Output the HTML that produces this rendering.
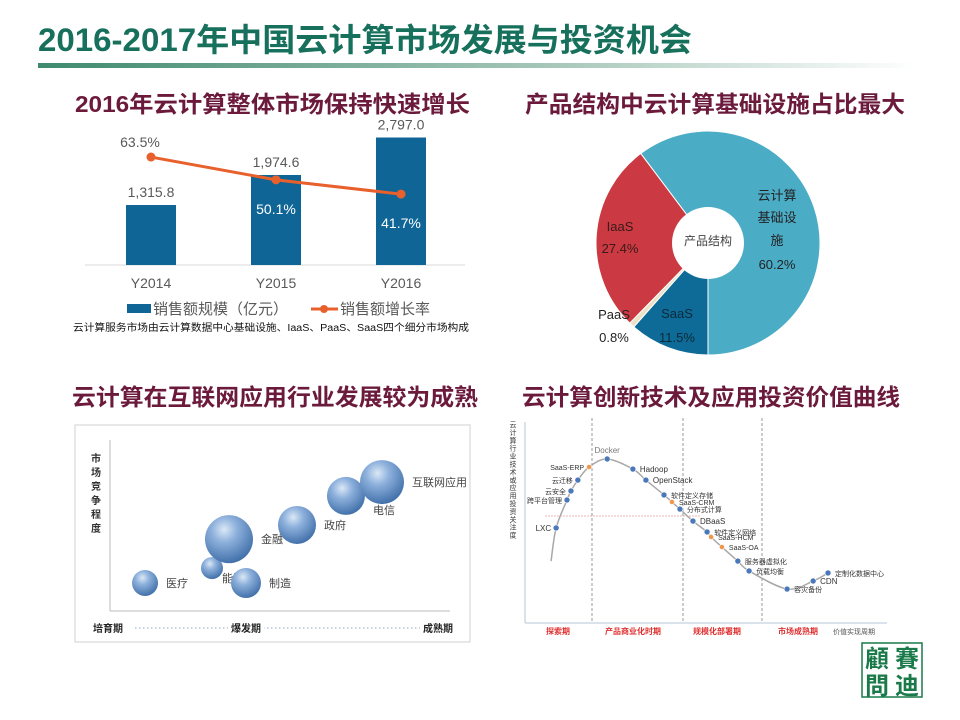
<!DOCTYPE html>
<html><head><meta charset="utf-8"><style>
body{margin:0;background:#fff;}
#page{position:relative;width:960px;height:720px;overflow:hidden;background:#fff;font-family:"Liberation Sans","Noto Sans CJK SC",sans-serif;}
svg text{font-family:"Liberation Sans","Noto Sans CJK SC",sans-serif;}
</style></head><body>
<div id="page">
<svg width="960" height="720" viewBox="0 0 960 720">
<defs>
<linearGradient id="ruleGrad" x1="0" x2="1" y1="0" y2="0">
<stop offset="0" stop-color="#3f8a6f"/><stop offset="0.6" stop-color="#a9c9bc"/><stop offset="1" stop-color="#ffffff"/>
</linearGradient>
<radialGradient id="ball" cx="0.4" cy="0.3" r="0.75">
<stop offset="0" stop-color="#dbe8f6"/><stop offset="0.35" stop-color="#8eb1dc"/><stop offset="1" stop-color="#3a6aa5"/>
</radialGradient>
</defs>
<text x="38" y="51" font-size="32" font-weight="bold" fill="#17705c" textLength="654" lengthAdjust="spacingAndGlyphs">2016-2017年中国云计算市场发展与投资机会</text>
<rect x="38" y="63" width="880" height="5" fill="url(#ruleGrad)"/>
<text x="75" y="112" font-size="23" font-weight="bold" fill="#6b1a3c" textLength="395" lengthAdjust="spacingAndGlyphs">2016年云计算整体市场保持快速增长</text>
<text x="525" y="112" font-size="23" font-weight="bold" fill="#6b1a3c" textLength="380" lengthAdjust="spacingAndGlyphs">产品结构中云计算基础设施占比最大</text>
<text x="72" y="405" font-size="23" font-weight="bold" fill="#6b1a3c" textLength="406" lengthAdjust="spacingAndGlyphs">云计算在互联网应用行业发展较为成熟</text>
<text x="522" y="405" font-size="23" font-weight="bold" fill="#6b1a3c" textLength="378" lengthAdjust="spacingAndGlyphs">云计算创新技术及应用投资价值曲线</text>
<g id="barChart"></g>
<g id="pieChart"></g>
<g id="bubbleChart"></g>
<g id="curveChart"></g>
<g>
<rect x="862" y="643" width="60" height="54" fill="none" stroke="#1a7a4a" stroke-width="1.5"/>
<text x="877" y="667" font-size="24" text-anchor="middle" fill="#1a7a4a" font-family="Noto Serif CJK SC,serif" font-weight="bold">顧</text>
<text x="907" y="667" font-size="24" text-anchor="middle" fill="#1a7a4a" font-family="Noto Serif CJK SC,serif" font-weight="bold">賽</text>
<text x="877" y="694" font-size="24" text-anchor="middle" fill="#1a7a4a" font-family="Noto Serif CJK SC,serif" font-weight="bold">問</text>
<text x="907" y="694" font-size="24" text-anchor="middle" fill="#1a7a4a" font-family="Noto Serif CJK SC,serif" font-weight="bold">迪</text>
</g>
</svg>
</div>
<script>
const NS='http://www.w3.org/2000/svg';
function mk(parent,tag,attrs,text){const e=document.createElementNS(NS,tag);for(const k in attrs)e.setAttribute(k,attrs[k]);if(text!==undefined)e.textContent=text;parent.appendChild(e);return e;}

// ---- Bar + line chart data ----
const barCategories=['Y2014','Y2015','Y2016'];
const salesValues=[1315.8,1974.6,2797.0];
const growthValues=[63.5,50.1,41.7];
const salesLabels=['1,315.8','1,974.6','2,797.0'];
const growthLabels=['63.5%','50.1%','41.7%'];

// ---- Pie data ----
const pieNames=['云计算基础设施','SaaS','PaaS','IaaS'];
const pieValues=[60.2,11.5,0.8,27.4];

// ---- Bubble data ----
const bubbleNames=['医疗','能源','金融','制造','政府','电信','互联网应用'];
const bubbleX=[10.3,30,35,40,55,69.4,80];
const bubbleY=[16.4,25.1,42,16.4,50.3,67.3,75.4];
const bubbleSize=[13,11,24,15,19,19,22];

// ---- Hype curve data ----
const curveNames=['LXC','跨平台管理','云安全','云迁移','SaaS-ERP','Docker','Hadoop','OpenStack','软件定义存储','SaaS-CRM','分布式计算','DBaaS','软件定义网络','SaaS-HCM','SaaS-OA','服务器虚拟化','负载均衡','容灾备份','CDN','定制化数据中心'];
const curveX=[8.6,11.6,12.7,14.6,17.7,22.7,29.8,33.4,38.4,40.6,42.8,46.4,50.3,51.4,54.4,58.8,61.9,72.4,79.6,83.7];
const curveY=[47.3,61.2,65.7,71.1,77.6,81.6,76.6,71.1,63.7,60.2,56.7,50.7,45.3,42.8,37.8,30.8,25.9,16.9,20.9,24.9];
const curveSaaS=[0,0,0,0,1,0,0,0,0,1,0,0,0,1,1,0,0,0,0,0];
const phaseNames=['探索期','产品商业化时期','规模化部署期','市场成熟期'];

// ===== Bar chart =====
(function(){
  const g=document.getElementById('barChart');
  const base=265, barMax=2797, barH=127.5, lineScale=1.7;
  const xc=i=>151+i*125;
  const yBar=v=>base-v/barMax*barH;
  const yLine=v=>base-v*lineScale;
  let ax=mk(g,'line',{x1:85,x2:465,y1:base,y2:base,stroke:'#d9d9d9','stroke-width':1});
  
  salesValues.forEach((v,i)=>{
    const r=mk(g,'rect',{x:xc(i)-25,y:yBar(v),width:50,height:base-yBar(v),fill:'#0f6696'});
    
    
    const t=mk(g,'text',{x:xc(i),y:yBar(v)-8,'font-size':14,'text-anchor':'middle',fill:'#595959'},salesLabels[i]);
    
    
    const c=mk(g,'text',{x:xc(i),y:base+23,'font-size':14,'text-anchor':'middle',fill:'#595959'},barCategories[i]);
    
    
  });
  const pts=growthValues.map((v,i)=>xc(i)+','+yLine(v)).join(' ');
  const pl=mk(g,'polyline',{points:pts,fill:'none',stroke:'#e8602c','stroke-width':3});
  
  
  growthValues.forEach((v,i)=>{
    const c=mk(g,'circle',{cx:xc(i),cy:yLine(v),r:4.5,fill:'#e8602c'});
    
    
    const inside=i>0;
    const t=mk(g,'text',{x:inside?xc(i):xc(i)-11,y:inside?yLine(v)+34:yLine(v)-10,'font-size':14,'text-anchor':'middle',fill:inside?'#ffffff':'#595959'},growthLabels[i]);
    
    
  });
  const lg=mk(g,'g',{});
  
  
  mk(lg,'rect',{x:127,y:304,width:24,height:9,fill:'#0f6696'});
  mk(lg,'text',{x:153,y:314,'font-size':15,fill:'#595959'},'销售额规模（亿元）');
  mk(lg,'line',{x1:311,x2:338,y1:309,y2:309,stroke:'#e8602c','stroke-width':3});
  mk(lg,'circle',{cx:324,cy:309,r:4,fill:'#e8602c'});
  mk(lg,'text',{x:340,y:314,'font-size':15,fill:'#595959'},'销售额增长率');
  const fn=mk(g,'text',{x:73,y:331,'font-size':10,fill:'#111',textLength:396,lengthAdjust:'spacingAndGlyphs'},'云计算服务市场由云计算数据中心基础设施、IaaS、PaaS、SaaS四个细分市场构成');
  
  
})();

// ===== Pie =====
(function(){
  const g=document.getElementById('pieChart');
  const cx=708,cy=243,R=112,r0=36;
  const colors=['#4bacc6','#0e6a96','#ece3c6','#cb3a43'];
  const total=pieValues.reduce((a,b)=>a+b,0);
  let a=180-pieValues[0]/total*360;
  const pt=(ang,rad)=>{const t=(ang-90)*Math.PI/180;return [cx+rad*Math.cos(t),cy+rad*Math.sin(t)];};
  pieValues.forEach((v,i)=>{
    const sw=v/total*360,a2=a+sw;
    const [x1,y1]=pt(a,R),[x2,y2]=pt(a2,R);
    const p=mk(g,'path',{d:`M${cx},${cy} L${x1},${y1} A${R},${R} 0 ${sw>180?1:0} 1 ${x2},${y2} Z`,fill:colors[i],stroke:'#fff','stroke-width':1});
    
    
    a=a2;
  });
  mk(g,'circle',{cx:cx,cy:cy,r:r0,fill:'#fff'});
  const lbl=[[777,200,'云计算','#222'],[777,222,'基础设','#222'],[777,245,'施','#222'],[777,269,pieValues[0]+'%','#222'],
    [620,231,'IaaS','#3a1a1a'],[620,253,pieValues[3]+'%','#3a1a1a'],[614,319,'PaaS','#222'],[614,342,pieValues[2]+'%','#222'],
    [677,318,'SaaS','#0b2a3a'],[677,342,pieValues[1]+'%','#0b2a3a']];
  lbl.forEach(l=>{const t=mk(g,'text',{x:l[0],y:l[1],'font-size':13,'text-anchor':'middle',fill:l[3]},l[2]);
    
    });
  const c=mk(g,'text',{x:cx,y:cy+2,'font-size':12,'text-anchor':'middle',fill:'#444'},'产品结构');
  
  
})();

// ===== Bubble =====
(function(){
  const g=document.getElementById('bubbleChart');
  const X=v=>110+v/100*340, Y=v=>611-v/100*171;
  mk(g,'rect',{x:75,y:425,width:395,height:217,fill:'#fff',stroke:'#d0d0d0','stroke-width':1});
  mk(g,'line',{x1:110,x2:110,y1:440,y2:611,stroke:'#bbb'});
  mk(g,'line',{x1:110,x2:450,y1:611,y2:611,stroke:'#bbb'});
  const yl=mk(g,'text',{x:96,y:462,'font-size':10,'font-weight':'bold',fill:'#333','text-anchor':'middle'});
  
  
  '市场竞争程度'.split('').forEach((ch,i)=>mk(yl,'tspan',{x:96,dy:i?14:0},ch));
  bubbleNames.forEach((n,i)=>{
    const t=mk(g,'text',{x:X(bubbleX[i])+bubbleSize[i]+(i===1?-1:8),y:Y(bubbleY[i])+(i===1?14:i===5?18:4),'font-size':11,fill:'#444','font-family':'Noto Serif CJK SC,serif'},n);
    
    
  });
  bubbleNames.forEach((n,i)=>{
    const c=mk(g,'circle',{cx:X(bubbleX[i]),cy:Y(bubbleY[i]),r:bubbleSize[i],fill:'url(#ball)'});
    
    
  });
  mk(g,'line',{x1:135,x2:430,y1:628,y2:628,stroke:'#8fa8c8','stroke-dasharray':'1.5,2.5'});
  [['培育期',108],['爆发期',246],['成熟期',438]].forEach(p=>{
    mk(g,'rect',{x:p[1]-18,y:620,width:36,height:14,fill:'#fff'});
    const t=mk(g,'text',{x:p[1],y:632,'font-size':10,'font-weight':'bold','text-anchor':'middle',fill:'#222'},p[0]);
    
    
  });
})();

// ===== Hype curve =====
(function(){
  const g=document.getElementById('curveChart');
  const X=v=>525+v/100*362, Y=v=>623-v/100*201;
  mk(g,'line',{x1:525,x2:525,y1:422,y2:623,stroke:'#b8c4d8'});
  mk(g,'line',{x1:525,x2:887,y1:623,y2:623,stroke:'#b8c4d8'});
  [592,683,762].forEach(x=>mk(g,'line',{x1:x,x2:x,y1:418,y2:623,stroke:'#999','stroke-dasharray':'3,2'}));
  mk(g,'line',{x1:545,x2:700,y1:516,y2:516,stroke:'#e07070','stroke-width':0.6,'stroke-dasharray':'2,1'});
  const yt=mk(g,'text',{x:513,y:427,'font-size':7,fill:'#333','text-anchor':'middle'});
  
  
  '云计算行业技术或应用投资关注度'.split('').forEach((ch,i)=>mk(yt,'tspan',{x:513,dy:i?7.9:0},ch));
  const px=[X(7.2)].concat(curveX.map(X)), py=[Y(30.8)].concat(curveY.map(Y));
  let d='M'+px[0]+','+py[0];
  for(let i=0;i<px.length-1;i++){
    const p0=Math.max(i-1,0),p3=Math.min(i+2,px.length-1);
    const c1x=px[i]+(px[i+1]-px[p0])/6,c1y=py[i]+(py[i+1]-py[p0])/6;
    const c2x=px[i+1]-(px[p3]-px[i])/6,c2y=py[i+1]-(py[p3]-py[i])/6;
    d+=` C${c1x},${c1y} ${c2x},${c2y} ${px[i+1]},${py[i+1]}`;
  }
  const cp=mk(g,'path',{d:d,fill:'none',stroke:'#a8a8a8','stroke-width':1.5});
  
  
  curveNames.forEach((n,i)=>{
    const x=X(curveX[i]),y=Y(curveY[i]);
    const c=mk(g,'circle',{cx:x,cy:y,r:curveSaaS[i]?2.6:3,fill:curveSaaS[i]?'#f0964a':'#4a78b8',stroke:'#fff','stroke-width':0.6});
    
    
    const left=i<5, up=i===5;
    const t=mk(g,'text',{x:up?x:(left?x-5:x+7),y:up?y-6:y+3,'font-size':(/^[A-Za-z]/.test(n)&&!curveSaaS[i])?8:7,'text-anchor':up?'middle':(left?'end':'start'),fill:up?'#777':'#333'},n);
    
    
  });
  [[558,'探索期'],[633,'产品商业化时期'],[717,'规模化部署期'],[798,'市场成熟期']].forEach((p,i)=>{
    const t=mk(g,'text',{x:p[0],y:634,'font-size':8,'font-weight':'bold','text-anchor':'middle',fill:'#e03030'},phaseNames[i]);
    
    
  });
  const xt=mk(g,'text',{x:854,y:634,'font-size':7,'text-anchor':'middle',fill:'#555'},'价值实现周期');
  
  
})();
</script>
</body></html>
